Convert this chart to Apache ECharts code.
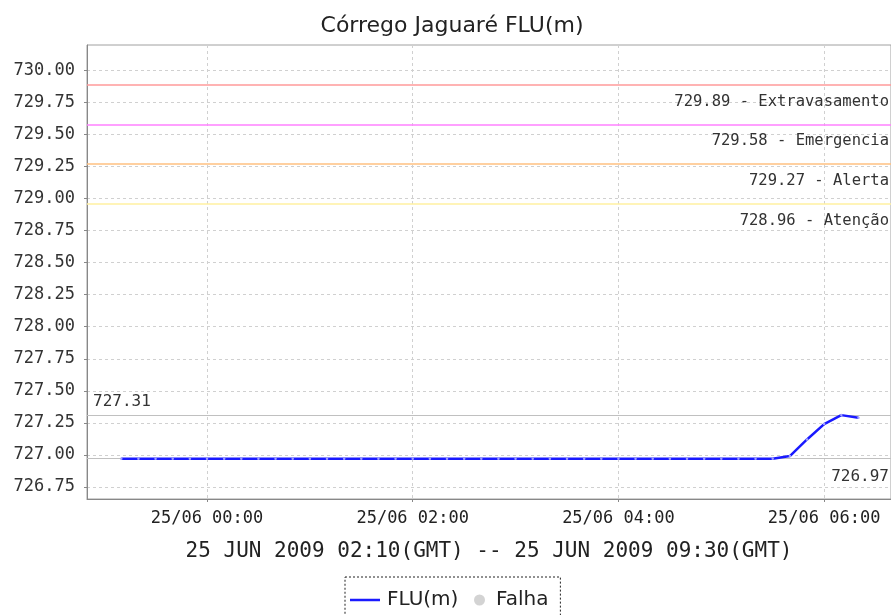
<!DOCTYPE html>
<html>
<head>
<meta charset="utf-8">
<script src="https://cdn.jsdelivr.net/npm/echarts@6/dist/echarts.min.js"></script>
<style>html,body{margin:0;padding:0;background:#fff}#c{width:891px;height:615px}</style>
</head>
<body>
<div id="c"></div>
<script>
const titleText = 'Córrego Jaguaré FLU(m)';
const subtitleText = '25 JUN 2009 02:10(GMT) -- 25 JUN 2009 09:30(GMT)';
const seriesName = 'FLU(m)';
const failName = 'Falha';

const times = [
  '2009-06-24 23:10','2009-06-24 23:20','2009-06-24 23:30','2009-06-24 23:40','2009-06-24 23:50',
  '2009-06-25 00:00','2009-06-25 00:10','2009-06-25 00:20','2009-06-25 00:30','2009-06-25 00:40','2009-06-25 00:50',
  '2009-06-25 01:00','2009-06-25 01:10','2009-06-25 01:20','2009-06-25 01:30','2009-06-25 01:40','2009-06-25 01:50',
  '2009-06-25 02:00','2009-06-25 02:10','2009-06-25 02:20','2009-06-25 02:30','2009-06-25 02:40','2009-06-25 02:50',
  '2009-06-25 03:00','2009-06-25 03:10','2009-06-25 03:20','2009-06-25 03:30','2009-06-25 03:40','2009-06-25 03:50',
  '2009-06-25 04:00','2009-06-25 04:10','2009-06-25 04:20','2009-06-25 04:30','2009-06-25 04:40','2009-06-25 04:50',
  '2009-06-25 05:00','2009-06-25 05:10','2009-06-25 05:20','2009-06-25 05:30','2009-06-25 05:40','2009-06-25 05:50',
  '2009-06-25 06:00','2009-06-25 06:10','2009-06-25 06:20'
];
const levels = [
  726.97,726.97,726.97,726.97,726.97,
  726.97,726.97,726.97,726.97,726.97,726.97,
  726.97,726.97,726.97,726.97,726.97,726.97,
  726.97,726.97,726.97,726.97,726.97,726.97,
  726.97,726.97,726.97,726.97,726.97,726.97,
  726.97,726.97,726.97,726.97,726.97,726.97,
  726.97,726.97,726.97,726.97,726.99,727.12,
  727.24,727.31,727.29
];

const thresholdValues = [729.89, 729.58, 729.27, 728.96];
const thresholdNames = ['Extravasamento', 'Emergencia', 'Alerta', 'Atenção'];
const thresholdColors = ['#ff9a9a', '#ff80ff', '#ffc080', '#fff0a0'];

const yTicks = [726.75, 727.00, 727.25, 727.50, 727.75, 728.00, 728.25, 728.50, 728.75, 729.00, 729.25, 729.50, 729.75, 730.00];
const yMin = 726.655, yMax = 730.2;
const xTickTimes = ['2009-06-25 00:00', '2009-06-25 02:00', '2009-06-25 04:00', '2009-06-25 06:00'];
const xMinTime = '2009-06-24 22:50', xMaxTime = '2009-06-25 06:39';

function ts(s) {
  const [d, t] = s.split(' ');
  const [Y, M, D] = d.split('-').map(Number);
  const [h, m] = t.split(':').map(Number);
  return new Date(Y, M - 1, D, h, m).getTime();
}
function pad(n) { return (n < 10 ? '0' : '') + n; }

const data = times.map((t, i) => [ts(t), levels[i]]);
const maxV = Math.max(...levels), minV = Math.min(...levels);

const markData = thresholdValues.map((v, i) => ({
  yAxis: v,
  lineStyle: { color: thresholdColors[i], width: 1.5, type: 'solid' },
  label: { formatter: v.toFixed(2) + ' - ' + thresholdNames[i], position: 'insideEndBottom', distance: [2, 9] }
}));
markData.push({
  yAxis: maxV,
  lineStyle: { color: '#c0c0c0', width: 1, type: 'solid' },
  label: { formatter: maxV.toFixed(2), position: 'insideStartTop', distance: [6, 5], fontSize: 16 }
});
markData.push({
  yAxis: minV,
  lineStyle: { color: '#c0c0c0', width: 1, type: 'solid' },
  label: { formatter: minV.toFixed(2), position: 'insideEndBottom', distance: [2, 10], fontSize: 16 }
});

const legendText = { fontFamily: 'DejaVu Sans', fontSize: 20, color: '#222' };

const chart = echarts.init(document.getElementById('c'), null, { renderer: 'canvas' });
chart.setOption({
  animation: false,
  backgroundColor: '#fff',
  title: [
    { text: titleText, left: 452, top: 15, textAlign: 'center', padding: 0,
      textStyle: { fontFamily: 'DejaVu Sans', fontSize: 22, fontWeight: 'normal', color: '#222' } },
    { text: subtitleText, left: 489, top: 541, textAlign: 'center', padding: 0,
      textStyle: { fontFamily: 'DejaVu Sans Mono', fontSize: 21, fontWeight: 'normal', color: '#222' } }
  ],
  legend: [
    {
      left: 345, top: 577,
      padding: [13, 102, 30, 5],
      itemWidth: 30, itemHeight: 11,
      borderColor: '#222', borderWidth: 1, borderType: [2, 2],
      textStyle: Object.assign({ padding: [0, 0, 0, 2] }, legendText),
      data: [{ name: seriesName, icon: 'path://M0,0 L30,0 L30,2.5 L0,2.5 Z', itemStyle: { color: '#1a1aff' } }]
    },
    {
      left: 474, top: 577,
      padding: [13, 0, 0, 0],
      itemWidth: 11, itemHeight: 11,
      textStyle: Object.assign({ padding: [0, 0, 0, 6] }, legendText),
      data: [{ name: failName, icon: 'circle', itemStyle: { color: '#c8c8c8' } }]
    }
  ],
  grid: { left: 87, right: 0, top: 45, bottom: 116, show: true, borderColor: '#a0a0a0', borderWidth: 1 },
  xAxis: {
    type: 'value',
    min: ts(xMinTime), max: ts(xMaxTime),
    axisLine: { show: true, lineStyle: { color: '#888' } },
    axisTick: { show: true, length: 3, lineStyle: { color: '#888' }, customValues: xTickTimes.map(ts) },
    axisLabel: {
      customValues: xTickTimes.map(ts),
      fontFamily: 'DejaVu Sans Mono', fontSize: 17, color: '#222', margin: 11,
      formatter: function (v) { const d = new Date(v); return pad(d.getDate()) + '/' + pad(d.getMonth() + 1) + ' ' + pad(d.getHours()) + ':' + pad(d.getMinutes()); }
    },
    splitLine: { show: true, lineStyle: { color: '#d0d0d0', type: [3, 3] } }
  },
  yAxis: {
    type: 'value',
    min: yMin, max: yMax,
    axisLine: { show: true, lineStyle: { color: '#888' } },
    axisTick: { show: true, length: 3, lineStyle: { color: '#888' }, customValues: yTicks },
    axisLabel: {
      customValues: yTicks,
      fontFamily: 'DejaVu Sans Mono', fontSize: 17, color: '#333', margin: 12,
      formatter: function (v) { return v.toFixed(2); }
    },
    splitLine: { show: true, lineStyle: { color: '#d0d0d0', type: [3, 3] } }
  },
  series: [
    {
      name: seriesName, type: 'line', data: data,
      showSymbol: true, symbol: 'circle', symbolSize: 2.5,
      itemStyle: { color: '#a0a0ff' },
      lineStyle: { color: '#1a1aff', width: 2.5 },
      markLine: {
        silent: true, symbol: 'none',
        label: { show: true, fontFamily: 'DejaVu Sans Mono', fontSize: 15.5, color: '#333' },
        data: markData
      },
      z: 5
    },
    {
      name: failName, type: 'scatter', data: [],
      itemStyle: { color: '#c8c8c8' }
    }
  ]
});
</script>
</body>
</html>
